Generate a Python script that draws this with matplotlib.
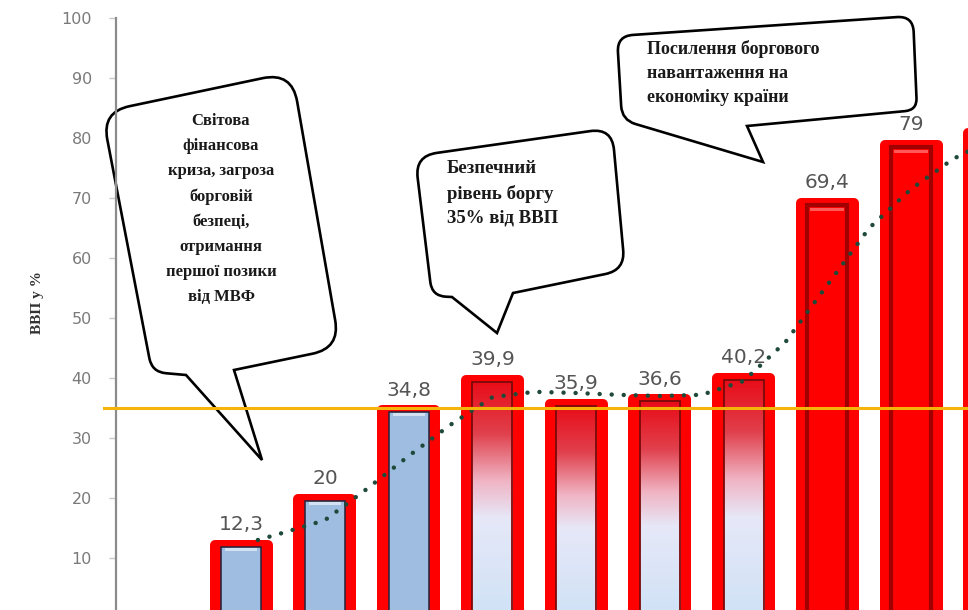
import numpy as np
import matplotlib
matplotlib.use("Agg")
import matplotlib.pyplot as plt
from matplotlib.path import Path
from matplotlib.patches import PathPatch
from matplotlib.colors import LinearSegmentedColormap
from matplotlib.transforms import Affine2D

# data: public debt of Ukraine, % of GDP
years = [2007, 2008, 2009, 2010, 2011, 2012, 2013, 2014, 2015, 2016]
debt = [12.3, 20.0, 34.8, 39.9, 35.9, 36.6, 40.2, 69.4, 79.0, 81.0]
debt_labels = ['12,3', '20', '34,8', '39,9', '35,9', '36,6', '40,2', '69,4', '79', '81']
bar_kind = ['blue', 'blue', 'blue', 'grad', 'grad', 'grad', 'grad', 'red', 'red', 'red']
safe_level = 35

# trend line (category index, value)
trend_x = [0.2, 0.5, 1, 1.5, 2, 2.5, 3, 3.5, 4, 4.5, 5, 5.5, 6, 6.5, 7, 7.5, 8, 8.5, 9]
trend_y = [13.0, 14.2, 16.3, 21.5, 27.0, 32.2, 36.8, 37.7, 37.5, 37.2, 37.0, 37.2,
           39.5, 46.0, 55.5, 65.0, 71.5, 76.5, 80.0]

bubble1_text = "Світова\nфінансова\nкриза, загроза\nборговій\nбезпеці,\nотримання\nпершої позики\nвід МВФ"
bubble2_text = "Безпечний\nрівень боргу\n35% від ВВП"
bubble3_text = "Посилення боргового\nнавантаження на\nекономіку країни"

W, H = 968, 610
fig = plt.figure(figsize=(W / 100, H / 100), dpi=100)
fig.patch.set_facecolor('white')

# axes: value 0 sits just below the bottom edge, x runs past the right edge
ax = fig.add_axes([115.5 / W, -8 / H, 12 * 83.75 / W, 600 / H])
ax.set_xlim(-1.5, 10.5)
ax.set_ylim(0, 100)

# pixel coords (top-left origin) -> figure
px = Affine2D().scale(1 / W, -1 / H).translate(0, 1) + fig.transFigure

x = np.arange(len(debt))
outer_w = 0.633
inner_w = 0.478

grad_cmap = LinearSegmentedColormap.from_list(
    'redfade', [(0.0, '#cfe2f6'), (0.42, '#e6e8f8'), (0.58, '#f0b4c4'),
                (0.78, '#e0404c'), (1.0, '#e80c18')])

# outer red frame with rounded top
ax.bar(x, np.array(debt) - 0.15, width=outer_w, color='#ff0000', edgecolor='#ff0000',
       linewidth=7.2, joinstyle='round', zorder=2)

for xi, v, kind in zip(x, debt, bar_kind):
    h = v - 0.5
    if kind == 'blue':
        ax.bar(xi, h, width=inner_w, color='#9fbde0', edgecolor='#23233a',
               linewidth=1.1, zorder=3)
        ax.bar(xi, 0.5, bottom=h - 0.6, width=inner_w * 0.8, color='white',
               alpha=0.55, linewidth=0, zorder=3.1)
    elif kind == 'grad':
        b = ax.bar(xi, h, width=inner_w, color='none', edgecolor='#7a0a0a',
                   linewidth=1.3, zorder=3.2)[0]
        grad = np.linspace(0, 1, 256).reshape(-1, 1)
        im = ax.imshow(grad, cmap=grad_cmap, origin='lower', aspect='auto',
                       extent=(xi - inner_w / 2, xi + inner_w / 2, 0, h), zorder=3)
        im.set_clip_path(b)
    else:
        ax.bar(xi, h, width=inner_w, color='#ff0000', edgecolor='#a00000',
               linewidth=3, zorder=3)
        ax.bar(xi, 0.5, bottom=h - 1.0, width=inner_w * 0.85, color='#ff8080',
               alpha=0.7, linewidth=0, zorder=3.1)

# value labels (the last one falls outside the cropped picture)
for xi, v, lab in zip(x, debt, debt_labels):
    if xi > 8.6:
        continue
    ax.text(xi, v + 3.2, lab, ha='center', va='center', fontsize=14.5,
            color='#555555', zorder=6)

# trend line
ax.plot(trend_x, trend_y, color='#1f4a3a', linewidth=3.2,
        linestyle=(0, (0.01, 2.7)), dash_capstyle='round', zorder=5)

# safe debt level
ax.plot([-1.64, 11], [safe_level, safe_level], color='#f5b40a', linewidth=2.2,
        clip_on=False, zorder=9)

# axis styling
for s in ['top', 'right', 'bottom']:
    ax.spines[s].set_visible(False)
ax.spines['left'].set_color('#8c8c8c')
ax.spines['left'].set_linewidth(1.6)
ax.spines['left'].set_zorder(8)
ax.set_xticks([])
ax.set_yticks(range(10, 101, 10))
ax.tick_params(axis='y', colors='#c8c8c8', length=5, width=1, pad=12,
               labelsize=11.5, labelcolor='#7a7a7a')
ax.set_facecolor('none')

fig.text(38 / W, 1 - 303 / H, "ВВП у %", rotation=90, ha='center', va='center',
         fontsize=11, family='Liberation Serif', fontweight='bold', color='#333333')


def bubble(pts, radii):
    verts, codes = [], []
    n = len(pts)
    for i in range(n):
        p = np.array(pts[i], float)
        r = radii[i]
        if r == 0:
            verts.append(p)
            codes.append(Path.LINETO)
            continue
        a = np.array(pts[i - 1], float)
        c = np.array(pts[(i + 1) % n], float)
        d1 = (a - p) / np.linalg.norm(a - p)
        d2 = (c - p) / np.linalg.norm(c - p)
        verts += [p + d1 * r, p, p + d2 * r]
        codes += [Path.LINETO, Path.CURVE3, Path.CURVE3]
    codes[0] = Path.MOVETO
    verts.append(verts[0])
    codes.append(Path.CLOSEPOLY)
    patch = PathPatch(Path(verts, codes), facecolor='white', edgecolor='black',
                      linewidth=1.9, transform=px, clip_on=False, zorder=7)
    ax.add_patch(patch)


bubble([(102, 112), (292, 72), (340, 348), (234, 370), (262, 460), (186, 375), (152, 372)],
       [28, 30, 28, 0, 0, 0, 14])
bubble([(415, 156), (612, 128), (625, 270), (513, 293), (497, 333), (452, 297), (432, 296)],
       [22, 22, 20, 0, 0, 0, 14])
bubble([(617, 36), (913, 16), (917, 110), (747, 126), (763, 162), (622, 120)],
       [16, 16, 12, 0, 0, 14])

tkw = dict(family='Liberation Serif', fontweight='bold', color='#1a1a1a',
           transform=px, zorder=10)
ax.text(221, 209, bubble1_text, ha='center', va='center', fontsize=12,
        linespacing=1.74, **tkw)
ax.text(447, 160, bubble2_text, ha='left', va='top', fontsize=13.5,
        linespacing=1.55, **tkw)
ax.text(647, 40, bubble3_text, ha='left', va='top', fontsize=13,
        linespacing=1.55, **tkw)

fig.savefig('out.png', dpi=100)
